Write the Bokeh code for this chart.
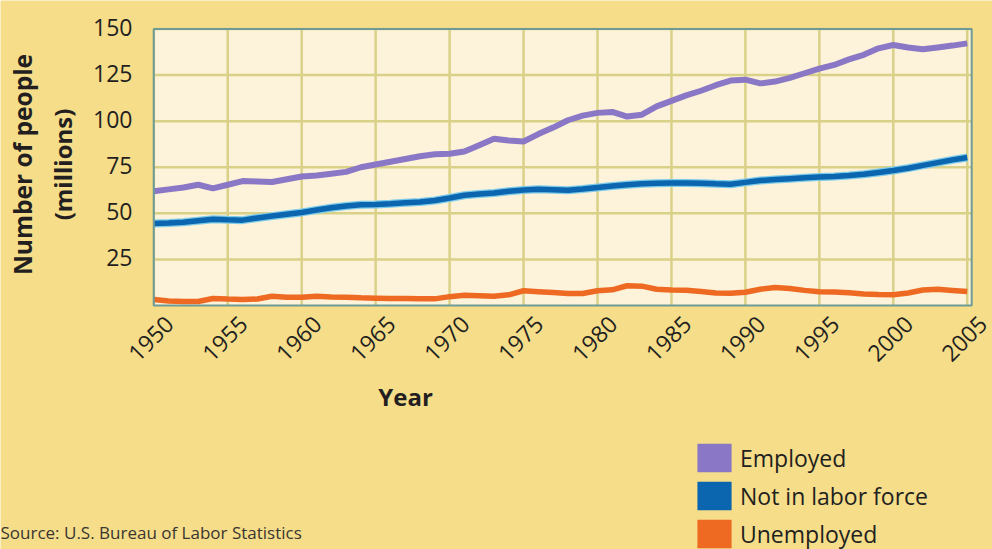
import math
from bokeh.plotting import figure
from bokeh.models import (ColumnDataSource, Label, LabelSet, Legend, LegendItem, Range1d)
from bokeh.core.properties import value
from bokeh.embed import file_html
from bokeh.resources import INLINE

# ---------------- data ----------------
years = list(range(1950, 2006))
employed = [62.0, 63.0, 64.0, 65.5, 63.5, 65.5, 67.5, 67.3, 67.0, 68.5,
            70.0, 70.5, 71.5, 72.5, 75.0, 76.5, 78.0, 79.5, 81.0, 82.0,
            82.3, 83.5, 87.0, 90.5, 89.5, 89.0, 93.0, 96.5, 100.5, 103.0,
            104.5, 105.0, 102.5, 103.5, 108.0, 111.0, 114.0, 116.5, 119.5, 122.0,
            122.5, 120.5, 121.5, 123.5, 126.0, 128.5, 130.5, 133.5, 136.0, 139.5,
            141.3, 140.0, 139.0, 140.0, 141.0, 142.2]
not_in_labor_force = [44.5, 44.7, 45.2, 46.0, 46.8, 46.5, 46.3, 47.5, 48.5, 49.5,
                      50.5, 51.8, 53.0, 54.0, 54.6, 54.8, 55.2, 55.7, 56.2, 57.0,
                      58.3, 59.8, 60.5, 61.0, 62.0, 62.7, 63.0, 62.8, 62.5, 63.2,
                      64.0, 64.8, 65.5, 66.0, 66.3, 66.5, 66.4, 66.3, 66.0, 65.8,
                      66.8, 67.8, 68.3, 68.8, 69.3, 69.7, 70.0, 70.5, 71.2, 72.2,
                      73.2, 74.5, 76.0, 77.5, 79.0, 80.3]
unemployed = [3.3, 2.5, 2.2, 2.2, 3.8, 3.5, 3.3, 3.5, 5.0, 4.5,
              4.5, 5.0, 4.6, 4.5, 4.2, 4.0, 3.8, 3.8, 3.6, 3.6,
              4.8, 5.5, 5.3, 5.0, 5.8, 8.0, 7.5, 7.0, 6.5, 6.5,
              8.0, 8.5, 10.7, 10.5, 8.8, 8.4, 8.3, 7.6, 6.8, 6.6,
              7.2, 8.8, 9.8, 9.2, 8.2, 7.5, 7.3, 6.9, 6.3, 6.0,
              5.8, 6.8, 8.4, 8.8, 8.2, 7.6]
x_ticks = [1950, 1955, 1960, 1965, 1970, 1975, 1980, 1985, 1990, 1995, 2000, 2005]
x_tick_labels = [str(t) for t in x_ticks]
y_ticks = [25, 50, 75, 100, 125, 150]
y_tick_labels = [str(t) for t in y_ticks]
series_names = ["Employed", "Not in labor force", "Unemployed"]
series_colors = ["#8A78C6", "#0B66AF", "#EE6A22"]

# chart-area extent on the axes
X_MIN, X_MAX = 1950, 2005.3
Y_MIN, Y_MAX = 0, 150

FONT = "Open Sans"
TEXT = "#231F20"
BG = "#F5DD8A"
W, H = 992, 549

# frame covers the whole canvas; the ranges map the chart area onto its place
PX_PER_YEAR = 14.79
PX_PER_UNIT = 1.8433
AREA_LEFT, AREA_BOTTOM = 153.3, 305.0
x_range = Range1d(X_MIN - AREA_LEFT / PX_PER_YEAR, X_MIN + (W - AREA_LEFT) / PX_PER_YEAR)
y_range = Range1d(-(H - AREA_BOTTOM) / PX_PER_UNIT, AREA_BOTTOM / PX_PER_UNIT)

p = figure(width=W, height=H, output_backend="svg", toolbar_location=None,
           x_range=x_range, y_range=y_range,
           min_border=0, min_border_left=0, min_border_right=0,
           min_border_top=0, min_border_bottom=0)
p.axis.visible = False
p.grid.visible = False
p.outline_line_color = None
p.background_fill_color = BG
p.border_fill_color = BG

src = ColumnDataSource(dict(year=years, emp=employed, nlf=not_in_labor_force, unemp=unemployed))

# chart area background
p.quad(left=[X_MIN], right=[X_MAX], bottom=[Y_MIN], top=[Y_MAX],
       fill_color="#FDF2DA", line_color=None)

# grid lines at the ticks
GRID = "#DAD189"
n_x, n_y = len(x_ticks), len(y_ticks)
p.segment(x0=x_ticks, x1=x_ticks, y0=[Y_MIN] * n_x, y1=[Y_MAX] * n_x,
          line_color=GRID, line_width=2.5)
p.segment(x0=[X_MIN] * n_y, x1=[X_MAX] * n_y, y0=y_ticks, y1=y_ticks,
          line_color=GRID, line_width=2.5)

# series lines
p.line("year", "emp", source=src, line_color=series_colors[0], line_width=6)
p.line("year", "nlf", source=src, line_color="#7CCBEA", line_width=8)
p.line("year", "nlf", source=src, line_color=series_colors[1], line_width=5.5)
p.line("year", "unemp", source=src, line_color=series_colors[2], line_width=5.5)

# chart area border
p.quad(left=[X_MIN], right=[X_MAX], bottom=[Y_MIN], top=[Y_MAX],
       fill_color=None, line_color="#6E9B95", line_width=2)

# y tick labels
ytick_src = ColumnDataSource(dict(y=y_ticks, t=y_tick_labels))
p.add_layout(LabelSet(x=132, x_units="screen", y="y", text="t", source=ytick_src,
                      y_offset=2, text_align="right", text_baseline="middle",
                      text_font=value(FONT), text_font_size=value("23px"),
                      text_color=TEXT))

# x tick labels (centered under ticks, rotated 45 deg)
xtick_src = ColumnDataSource(dict(x=x_ticks, t=x_tick_labels))
p.add_layout(LabelSet(x="x", y=H - 338, y_units="screen", text="t", source=xtick_src,
                      x_offset=-3, angle=math.pi / 4, text_align="center",
                      text_baseline="middle",
                      text_font=value(FONT), text_font_size=value("23px"),
                      text_color=TEXT))

# axis titles
p.add_layout(Label(x=405, y=H - 396, x_units="screen", y_units="screen", text="Year",
                   text_align="center", text_baseline="middle", text_font=FONT,
                   text_font_style="bold", text_font_size="24px", text_color=TEXT))
p.add_layout(Label(x=22, y=H - 164, x_units="screen", y_units="screen",
                   text="Number of people", angle=math.pi / 2,
                   text_align="center", text_baseline="middle", text_font=FONT,
                   text_font_style="bold", text_font_size="24.5px", text_color=TEXT))
p.add_layout(Label(x=62, y=H - 164, x_units="screen", y_units="screen",
                   text="(millions)", angle=math.pi / 2,
                   text_align="center", text_baseline="middle", text_font=FONT,
                   text_font_style="bold", text_font_size="24px", text_color=TEXT))

# source note
p.add_layout(Label(x=0, y=H - 532, x_units="screen", y_units="screen",
                   text="Source: U.S. Bureau of Labor Statistics",
                   text_align="left", text_baseline="alphabetic", text_font=FONT,
                   text_font_size="17px", text_color="#3A3530"))

# legend with square swatches (legend-only renderers: NaN data draws nothing)
NAN = float("nan")
items = []
for name, col in zip(series_names, series_colors):
    r = p.quad(left=[NAN], right=[NAN], top=[NAN], bottom=[NAN],
               fill_color=col, line_color=col, line_alpha=0.5)
    items.append(LegendItem(label=name, renderers=[r]))
legend = Legend(items=items, location=(693, -2), orientation="vertical",
                glyph_width=42, glyph_height=35, label_height=35, spacing=3,
                label_standoff=5, padding=0, margin=0,
                background_fill_alpha=0, border_line_alpha=0,
                label_text_font=FONT, label_text_font_size="23px",
                label_text_color=TEXT)
p.add_layout(legend)

open("out.html", "w").write(file_html(p, INLINE))
